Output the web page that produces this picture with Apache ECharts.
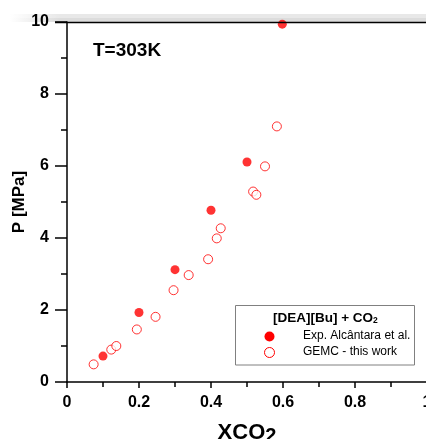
<!DOCTYPE html>
<html>
<head>
<meta charset="utf-8">
<script src="https://cdn.jsdelivr.net/npm/echarts@6/dist/echarts.min.js"></script>
<style>html,body{margin:0;padding:0;background:#fff}#c{width:426px;height:439px}</style>
</head>
<body>
<div id="c"></div>
<script>
var expX = [0.1, 0.2, 0.3, 0.4, 0.5, 0.598];
var expP = [0.72, 1.93, 3.12, 4.77, 6.11, 9.94];
var gemcX = [0.074, 0.123, 0.137, 0.194, 0.246, 0.296, 0.338, 0.392, 0.416, 0.427, 0.517, 0.526, 0.55, 0.583];
var gemcP = [0.49, 0.90, 1.00, 1.46, 1.81, 2.55, 2.97, 3.41, 3.99, 4.27, 5.29, 5.20, 5.99, 7.10];
var xTicks = [0, 0.2, 0.4, 0.6, 0.8, 1];
var yTicks = [0, 2, 4, 6, 8, 10];
var expName = 'Exp. Alcântara et al.';
var gemcName = 'GEMC - this work';

function pairs(xs, ys) { return xs.map(function (x, i) { return [x, ys[i]]; }); }

var chart = echarts.init(document.getElementById('c'), null, { renderer: 'canvas' });
var font = '"Liberation Sans", Arial, sans-serif';
chart.setOption({
  animation: false,
  backgroundColor: '#fff',
  grid: { left: 67, top: 22, right: -1, bottom: 57, show: false, containLabel: false, outerBoundsMode: 'none' },
  graphic: [
    { type: 'rect', shape: { x: 10, y: 14, width: 416, height: 8 }, silent: true, z: -1,
      style: { fill: new echarts.graphic.LinearGradient(0, 0, 1, 0, [
        { offset: 0, color: 'rgba(220,220,220,0)' }, { offset: 0.12, color: 'rgba(220,220,220,1)' }, { offset: 1, color: 'rgba(220,220,220,1)' }]) } },
    { type: 'rect', shape: { x: 0, y: 14, width: 426, height: 4 }, silent: true, z: -1,
      style: { fill: 'rgba(255,255,255,0.35)' } },
    { type: 'line', shape: { x1: 55, y1: 22.5, x2: 426, y2: 22.5 }, z: 10, style: { stroke: '#000', lineWidth: 1.5 } },
    { type: 'text', left: 93, top: 41, style: { text: 'T=303K', font: 'bold 19px ' + font, fill: '#000' } },
    { type: 'text', x: 19, y: 202, rotation: Math.PI / 2,
      style: { text: 'P [MPa]', font: 'bold 17px ' + font, fill: '#000', align: 'center', verticalAlign: 'middle' } },
    { type: 'rect', shape: { x: 235.5, y: 305.5, width: 179, height: 59.5 }, z: 5,
      style: { fill: '#fff', stroke: '#808080', lineWidth: 1 } },
    { type: 'text', z: 6, left: 273, top: 311,
      style: { rich: { b: { font: 'bold 13.5px ' + font, fill: '#000' }, s: { font: 'bold 8.5px ' + font, fill: '#000', padding: [6, 0, 0, 0] } },
        text: '{b|[DEA][Bu] + CO}{s|2}' } },
    { type: 'circle', z: 6, shape: { cx: 269.5, cy: 336.5, r: 5 }, style: { fill: '#ff0000' } },
    { type: 'circle', z: 6, shape: { cx: 269.5, cy: 352.5, r: 5 }, style: { fill: '#fff', stroke: '#ff0000', lineWidth: 1 } },
    { type: 'text', z: 6, left: 303, top: 330, style: { text: expName, font: '12px ' + font, fill: '#000' } },
    { type: 'text', z: 6, left: 303, top: 346, style: { text: gemcName, font: '12px ' + font, fill: '#000' } }
  ],
  xAxis: {
    type: 'value', min: 0, max: 1, interval: 0.2,
    name: '{a|XCO}{b|2}', nameLocation: 'middle', nameGap: 38,
    nameTextStyle: { rich: { a: { fontFamily: font, fontWeight: 'bold', fontSize: 22, color: '#000' }, b: { fontFamily: font, fontWeight: 'bold', fontSize: 20, color: '#000', padding: [6, 0, 0, 0] } } },
    axisLine: { onZero: false, lineStyle: { color: '#000', width: 1.5 } },
    axisTick: { show: true, inside: false, length: 6, lineStyle: { color: '#000', width: 1.5 } },
    minorTick: { show: true, splitNumber: 2, length: 5, lineStyle: { color: '#000', width: 1.5 } },
    splitLine: { show: false },
    axisLabel: { margin: 13, fontFamily: font, fontWeight: 'bold', fontSize: 16, color: '#000',
      formatter: function (v) { return String(parseFloat(v.toFixed(1))); } }
  },
  yAxis: {
    type: 'value', min: 0, max: 10, interval: 2,
    axisLine: { onZero: false, lineStyle: { color: '#000', width: 1.5 } },
    axisTick: { show: true, inside: false, length: 12, lineStyle: { color: '#000', width: 1.5 } },
    minorTick: { show: true, splitNumber: 2, length: 6, lineStyle: { color: '#000', width: 1.5 } },
    splitLine: { show: false },
    axisLabel: { margin: 18, fontFamily: font, fontWeight: 'bold', fontSize: 16, color: '#000' }
  },
  series: [
    { name: expName, type: 'scatter', data: pairs(expX, expP), symbol: 'circle', symbolSize: 9,
      itemStyle: { color: '#ff0000' }, z: 3, clip: false },
    { name: gemcName, type: 'scatter', data: pairs(gemcX, gemcP), symbol: 'circle', symbolSize: 9,
      itemStyle: { color: '#fff', borderColor: '#ff0000', borderWidth: 1 }, z: 3, clip: false }
  ]
});
</script>
</body>
</html>
